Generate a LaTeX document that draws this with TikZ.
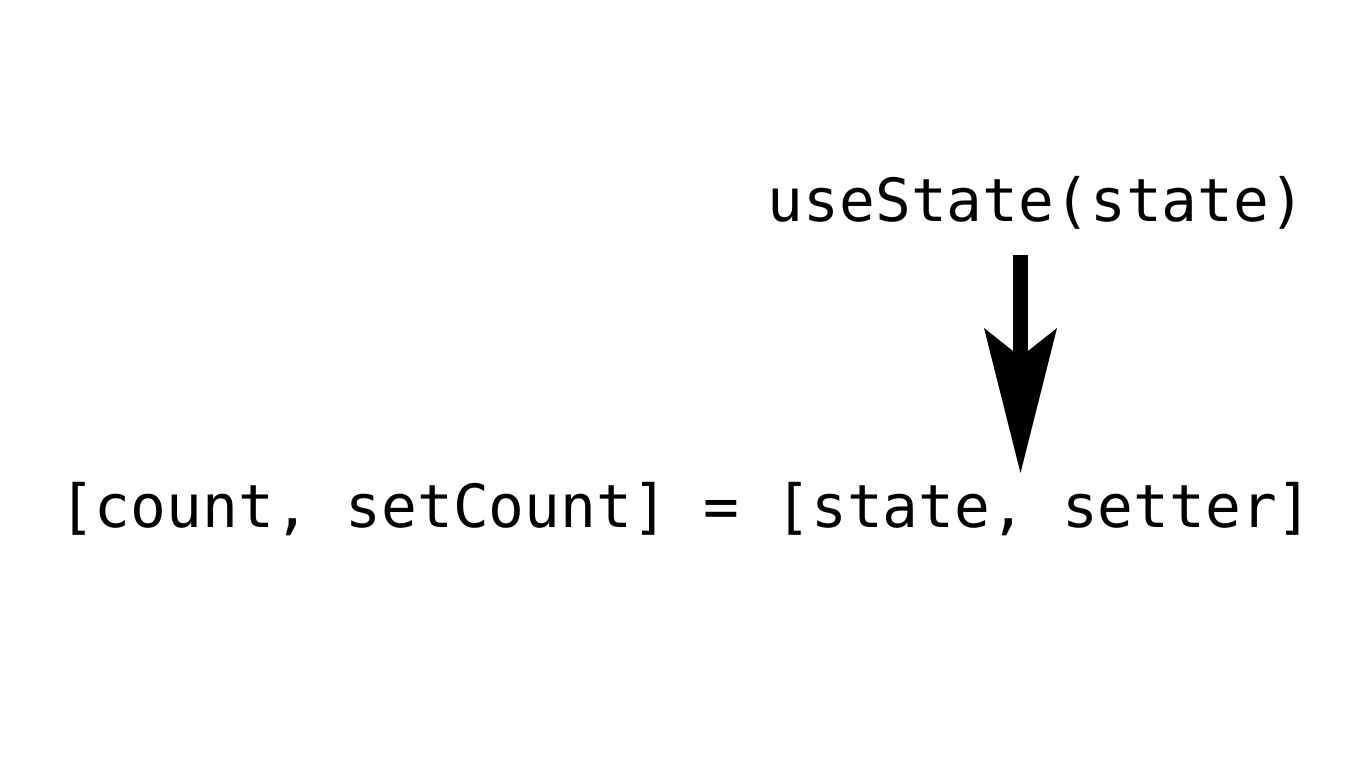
\documentclass[tikz,border=0pt]{standalone}
\usepackage{fontspec}
\setmonofont{DejaVu Sans Mono}
\usetikzlibrary{arrows.meta}
\tikzset{
  codetext/.style={inner sep=0pt, anchor=base, font=\ttfamily\fontsize{59.5}{70}\selectfont},
  bigarrow/.style={line width=15pt, -{Stealth[length=145pt, width=73pt, inset=29pt, line width=0pt]}}
}
\begin{document}
\begin{tikzpicture}[x=1pt,y=1pt]
\useasboundingbox[fill=white] (0,0) rectangle (1366,768);
\node[codetext] (call) at (1036.5,546) {useState(state)};
\node[codetext] (assign) at (686,240) {[count, setCount] = [state, setter]};
\coordinate (from) at (1020.5,513);
\coordinate (to) at (1020.5,295);
\draw[bigarrow] (from) -- (to);
\end{tikzpicture}
\end{document}
